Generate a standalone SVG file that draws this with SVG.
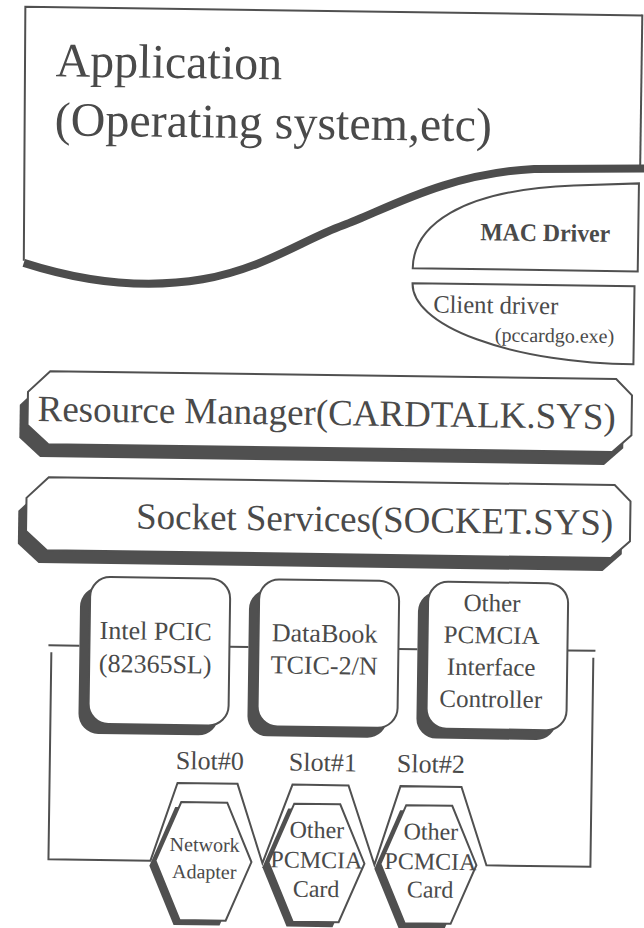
<svg xmlns="http://www.w3.org/2000/svg" width="644" height="928" viewBox="0 0 644 928">
<style>
.t{font-family:"Liberation Serif","Times New Roman",serif;fill:#4a4a4a}
.c{text-anchor:middle}
.ln{fill:none;stroke:#505050;stroke-width:2}
.bx{fill:#fff;stroke:#505050;stroke-width:2}
.sh{fill:#505050;stroke:none}
</style>
<rect width="644" height="928" fill="#fff"/>
<g transform="rotate(0.8 322 464)">
<g id="connectors">
 <path class="ln" d="M51,649 L82,649"/>
 <path class="ln" d="M232,648 L251,648"/>
 <path class="ln" d="M401,648 L420,648"/>
 <path class="ln" d="M570,647 L598,647"/>
 <path class="ln" d="M54,656 L54,863 L156,863 L182,785 L242,785 L268,864 L297,785 L353,785 L380,864 L405,785 L466,785 L492,863 L596,863 L596,654"/>
</g>
<g id="application">
 <path class="ln" d="M21,265 L19,11 L636,11"/>
 <path class="ln" stroke-width="3.5" d="M636,10 L636,166"/>
 <path d="M21,267 C80,285 140,292 200,281 S300,240 340,225 S440,172 530,166 L640,164" fill="none" stroke="#4d4d4d" stroke-width="8"/>
 <text class="t" x="50" y="80" font-size="48">Application</text>
 <text class="t" x="50" y="139" font-size="48">(Operating system,etc)</text>
</g>
<g id="mac-driver">
 <path class="bx" d="M410,267 C410,225 455,188 570,182 L635,179 L635,267 Z"/>
 <text class="t" x="477" y="238" font-size="25" font-weight="bold" textLength="130" lengthAdjust="spacingAndGlyphs">MAC Driver</text>
</g>
<g id="client-driver">
 <path class="bx" d="M410,282 L632,282 L632,360 A222,78 0 0 1 410,282 Z"/>
 <text class="t" x="431" y="311" font-size="25" textLength="125" lengthAdjust="spacingAndGlyphs">Client driver</text>
 <text class="t" x="493" y="339" font-size="20">(pccardgo.exe)</text>
</g>
<g id="resource-manager">
 <polygon class="sh" points="41,388 607,388 623,404 623,444 604,461 40,461 19,442 19,409"/>
 <polygon class="bx" points="49,375 615,375 631,391 631,431 612,448 48,448 27,429 27,396"/>
 <text class="t" x="37" y="425" font-size="37" textLength="578" lengthAdjust="spacingAndGlyphs">Resource Manager(CARDTALK.SYS)</text>
</g>
<g id="socket-services">
 <polygon class="sh" points="41,494 607,494 623,510 623,550 604,567 40,567 19,548 19,515"/>
 <polygon class="bx" points="49,481 615,481 631,497 631,537 612,554 48,554 27,535 27,502"/>
 <text class="t" x="137" y="531" font-size="37" textLength="477" lengthAdjust="spacingAndGlyphs">Socket Services(SOCKET.SYS)</text>
</g>
<g id="intel-pcic">
 <rect class="sh" x="82" y="590" width="140" height="147" rx="20"/>
 <rect class="bx" x="92" y="580" width="140" height="147" rx="20"/>
 <text class="t c" x="158" y="642" font-size="26">Intel PCIC</text>
 <text class="t c" x="158" y="675" font-size="26">(82365SL)</text>
</g>
<g id="databook">
 <rect class="sh" x="251" y="590" width="140" height="147" rx="20"/>
 <rect class="bx" x="261" y="580" width="140" height="147" rx="20"/>
 <text class="t c" x="327" y="642" font-size="26">DataBook</text>
 <text class="t c" x="327" y="674" font-size="26">TCIC-2/N</text>
</g>
<g id="other-controller">
 <rect class="sh" x="420" y="590" width="140" height="147" rx="20"/>
 <rect class="bx" x="430" y="580" width="140" height="147" rx="20"/>
 <text class="t c" x="494" y="609" font-size="25">Other</text>
 <text class="t c" x="494" y="641" font-size="25">PCMCIA</text>
 <text class="t c" x="494" y="673" font-size="25">Interface</text>
 <text class="t c" x="494" y="705" font-size="25">Controller</text>
</g>
<g id="slot-labels">
 <text class="t c" x="214" y="771" font-size="26">Slot#0</text>
 <text class="t c" x="327" y="771" font-size="26">Slot#1</text>
 <text class="t c" x="435" y="771" font-size="26">Slot#2</text>
</g>
<g id="network-adapter">
 <polygon class="sh" points="180,809 226,809 251,868 226,927 180,927 155,868"/>
 <polygon class="bx" points="186,804 232,804 257,863 232,922 186,922 161,863"/>
 <text class="t c" x="210" y="853" font-size="20">Network</text>
 <text class="t c" x="210" y="880" font-size="20">Adapter</text>
</g>
<g id="card-1">
 <polygon class="sh" points="293,809 339,809 364,868 339,927 293,927 268,868"/>
 <polygon class="bx" points="299,804 345,804 370,863 345,922 299,922 274,863"/>
 <text class="t c" x="322" y="838" font-size="24">Other</text>
 <text class="t c" x="322" y="868" font-size="24">PCMCIA</text>
 <text class="t c" x="322" y="897" font-size="24">Card</text>
</g>
<g id="card-2">
 <polygon class="sh" points="405,809 451,809 476,868 451,927 405,927 380,868"/>
 <polygon class="bx" points="411,804 457,804 482,863 457,922 411,922 386,863"/>
 <text class="t c" x="436" y="838" font-size="24">Other</text>
 <text class="t c" x="436" y="868" font-size="24">PCMCIA</text>
 <text class="t c" x="436" y="896" font-size="24">Card</text>
</g>
</g>
</svg>
